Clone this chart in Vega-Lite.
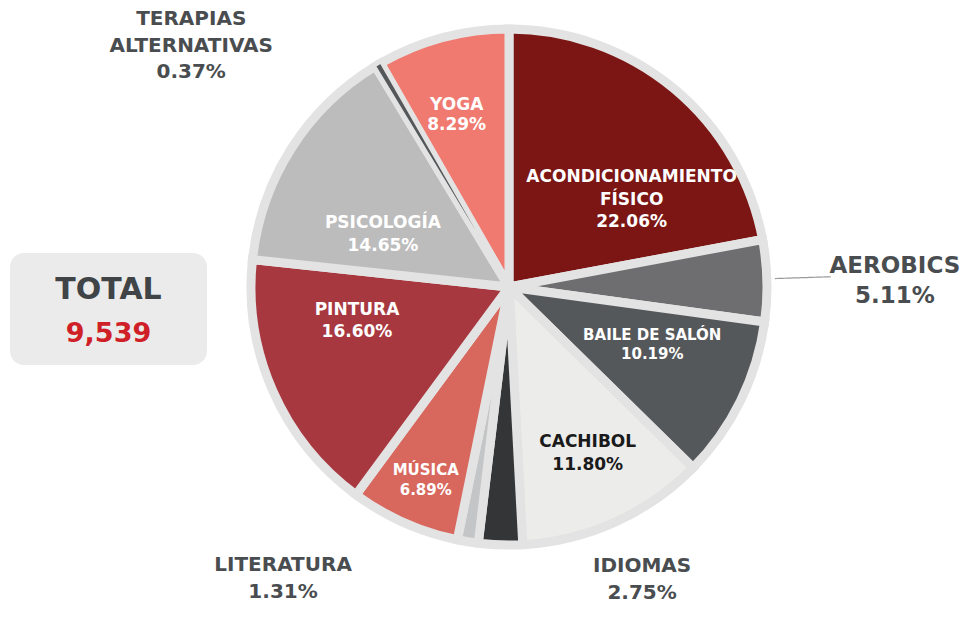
{
  "$schema": "https://vega.github.io/schema/vega-lite/v6.json",
  "background": "white",
  "padding": {"left": 10, "top": 0, "right": 0, "bottom": 0},
  "autosize": {"type": "pad"},
  "spacing": -98,
  "config": {
    "view": {"stroke": null},
    "text": {"font": "DejaVu Sans", "fontWeight": "bold"}
  },
  "hconcat": [
    {
      "spacing": 0,
      "bounds": "flush",
      "vconcat": [
        {
          "width": 197,
          "height": 253,
          "data": {"values": []},
          "mark": {"type": "text"},
          "encoding": {}
        },
        {
          "width": 197,
          "height": 112,
          "view": {"fill": "#ebebeb", "cornerRadius": 14, "stroke": null},
          "data": {"values": [{"label": "TOTAL", "total": 9539}]},
          "layer": [
            {
              "mark": {"type": "text", "fontSize": 30, "color": "#404447", "baseline": "alphabetic", "dy": -10},
              "encoding": {"text": {"field": "label", "type": "nominal"}}
            },
            {
              "mark": {"type": "text", "fontSize": 27, "color": "#cf2027", "baseline": "alphabetic", "dy": 33},
              "encoding": {"text": {"field": "total", "type": "quantitative", "format": ","}}
            }
          ]
        }
      ]
    },
    {
      "width": 584,
      "height": 574,
      "data": {
        "values": [
          {"name": "ACONDICIONAMIENTO\nFÍSICO", "share": 22.06},
          {"name": "AEROBICS", "share": 5.11},
          {"name": "BAILE DE SALÓN", "share": 10.19},
          {"name": "CACHIBOL", "share": 11.80},
          {"name": "IDIOMAS", "share": 2.75},
          {"name": "LITERATURA", "share": 1.31},
          {"name": "MÚSICA", "share": 6.89},
          {"name": "PINTURA", "share": 16.60},
          {"name": "PSICOLOGÍA", "share": 14.65},
          {"name": "TERAPIAS\nALTERNATIVAS", "share": 0.37},
          {"name": "YOGA", "share": 8.29}
        ]
      },
      "transform": [
        {"stack": "share", "groupby": [], "sort": [{"field": "name", "order": "ascending"}], "as": ["s0", "s1"]},
        {"calculate": "(datum.s0 + datum.s1) / 2", "as": "mid"},
        {"calculate": "datum.name + '\\n' + format(datum.share, '.2f') + '%'", "as": "label"}
      ],
      "layer": [
        {
          "mark": {"type": "arc", "outerRadius": 258, "stroke": "#e3e3e3", "strokeWidth": 9, "strokeJoin": "miter"},
          "encoding": {
            "theta": {"field": "share", "type": "quantitative", "stack": true},
            "color": {
              "field": "name",
              "type": "nominal",
              "legend": null,
              "scale": {
                "domain": ["ACONDICIONAMIENTO\nFÍSICO", "AEROBICS", "BAILE DE SALÓN", "CACHIBOL", "IDIOMAS", "LITERATURA", "MÚSICA", "PINTURA", "PSICOLOGÍA", "TERAPIAS\nALTERNATIVAS", "YOGA"],
                "range": ["#7b1614", "#6e6d6f", "#55585b", "#ececea", "#333537", "#c3c5c6", "#d8675d", "#a8383f", "#bcbcbc", "#55585b", "#f07a70"]
              }
            }
          }
        },
        {
          "transform": [{"filter": "datum.name === 'TERAPIAS\\nALTERNATIVAS'"}],
          "mark": {"type": "arc", "outerRadius": 258, "innerRadius": 12, "color": "#55585b", "stroke": "#e3e3e3", "strokeWidth": 1.5},
          "encoding": {
            "theta": {"field": "s0", "type": "quantitative"},
            "theta2": {"field": "s1"}
          }
        },
        {
          "transform": [{"filter": "datum.name === 'AEROBICS'"}],
          "mark": {"type": "arc", "theta": 1.539, "theta2": 1.539, "radius": 322, "radius2": 266, "fill": null, "stroke": "#9a9a9a", "strokeWidth": 1.2, "strokeDash": [2, 2]},
          "encoding": {}
        },
        {
          "transform": [{"filter": "datum.name === 'ACONDICIONAMIENTO\\nFÍSICO'"}],
          "mark": {"type": "text", "radius": 145, "dx": 30, "dy": 2, "fontSize": 17, "lineHeight": 22.5, "color": "white", "lineBreak": "\n", "baseline": "middle"},
          "encoding": {"theta": {"field": "mid", "type": "quantitative"}, "text": {"field": "label"}}
        },
        {
          "transform": [{"filter": "datum.name === 'BAILE DE SALÓN'"}],
          "mark": {"type": "text", "radius": 154, "dx": 5, "dy": -19.5, "fontSize": 15, "lineHeight": 19, "color": "white", "lineBreak": "\n", "baseline": "middle"},
          "encoding": {"theta": {"field": "mid", "type": "quantitative"}, "text": {"field": "label"}}
        },
        {
          "transform": [{"filter": "datum.name === 'CACHIBOL'"}],
          "mark": {"type": "text", "radius": 184, "dx": 3, "dy": -12.5, "fontSize": 17, "lineHeight": 23, "color": "#1a1a1a", "lineBreak": "\n", "baseline": "middle"},
          "encoding": {"theta": {"field": "mid", "type": "quantitative"}, "text": {"field": "label"}}
        },
        {
          "transform": [{"filter": "datum.name === 'MÚSICA'"}],
          "mark": {"type": "text", "radius": 210, "dx": 2, "dy": -9, "fontSize": 15, "lineHeight": 20, "color": "white", "lineBreak": "\n", "baseline": "middle"},
          "encoding": {"theta": {"field": "mid", "type": "quantitative"}, "text": {"field": "label"}}
        },
        {
          "transform": [{"filter": "datum.name === 'PINTURA'"}],
          "mark": {"type": "text", "radius": 153, "dx": -12, "dy": -39, "fontSize": 17, "lineHeight": 22, "color": "white", "lineBreak": "\n", "baseline": "middle"},
          "encoding": {"theta": {"field": "mid", "type": "quantitative"}, "text": {"field": "label"}}
        },
        {
          "transform": [{"filter": "datum.name === 'PSICOLOGÍA'"}],
          "mark": {"type": "text", "radius": 134, "dx": -13, "dy": 7.5, "fontSize": 17, "lineHeight": 23, "color": "white", "lineBreak": "\n", "baseline": "middle"},
          "encoding": {"theta": {"field": "mid", "type": "quantitative"}, "text": {"field": "label"}}
        },
        {
          "transform": [{"filter": "datum.name === 'YOGA'"}],
          "mark": {"type": "text", "radius": 180, "dx": -6, "dy": -8, "fontSize": 17, "lineHeight": 20, "color": "white", "lineBreak": "\n", "baseline": "middle"},
          "encoding": {"theta": {"field": "mid", "type": "quantitative"}, "text": {"field": "label"}}
        },
        {
          "transform": [{"filter": "datum.name === 'AEROBICS'"}],
          "mark": {"type": "text", "radius": 386, "dx": 0, "dy": -12, "fontSize": 23, "lineHeight": 30, "color": "#4a4d50", "lineBreak": "\n", "baseline": "middle"},
          "encoding": {"theta": {"field": "mid", "type": "quantitative"}, "text": {"field": "label"}}
        },
        {
          "transform": [{"filter": "datum.name === 'TERAPIAS\\nALTERNATIVAS'"}],
          "mark": {"type": "text", "radius": 368, "dx": -131, "dy": 49.5, "fontSize": 20, "lineHeight": 26.5, "color": "#4a4d50", "lineBreak": "\n", "baseline": "middle"},
          "encoding": {"theta": {"field": "mid", "type": "quantitative"}, "text": {"field": "label"}}
        },
        {
          "transform": [{"filter": "datum.name === 'LITERATURA'"}],
          "mark": {"type": "text", "radius": 325, "dx": -174, "dy": -42.5, "fontSize": 20, "lineHeight": 27, "color": "#4a4d50", "lineBreak": "\n", "baseline": "middle"},
          "encoding": {"theta": {"field": "mid", "type": "quantitative"}, "text": {"field": "label"}}
        },
        {
          "transform": [{"filter": "datum.name === 'IDIOMAS'"}],
          "mark": {"type": "text", "radius": 301, "dx": 143, "dy": -21.5, "fontSize": 20, "lineHeight": 27, "color": "#4a4d50", "lineBreak": "\n", "baseline": "middle"},
          "encoding": {"theta": {"field": "mid", "type": "quantitative"}, "text": {"field": "label"}}
        }
      ]
    }
  ]
}
